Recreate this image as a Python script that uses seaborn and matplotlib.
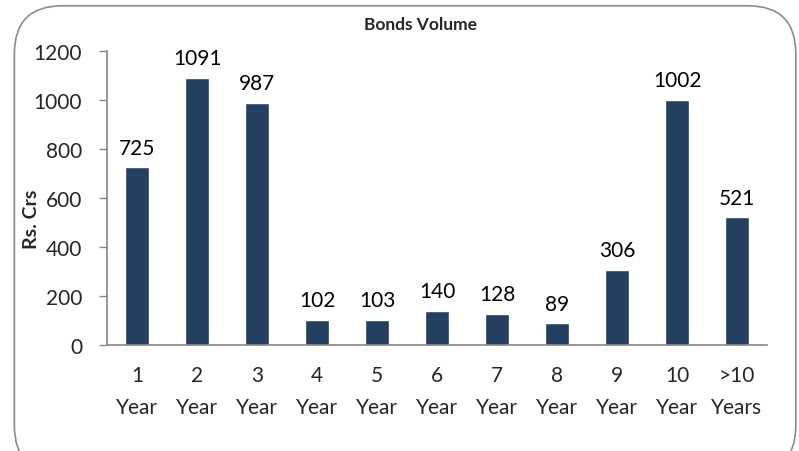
import matplotlib
matplotlib.use("Agg")
import matplotlib.pyplot as plt
from matplotlib.patches import FancyBboxPatch
import pandas as pd
import seaborn as sns
import numpy as np

categories = ["1\nYear", "2\nYear", "3\nYear", "4\nYear", "5\nYear", "6\nYear",
              "7\nYear", "8\nYear", "9\nYear", "10\nYear", ">10\nYears"]
volumes = [725, 1091, 987, 102, 103, 140, 128, 89, 306, 1002, 521]
yticks = [0, 200, 400, 600, 800, 1000, 1200]

sns.set_style("white")
plt.rcParams["font.family"] = ["Lato", "DejaVu Sans"]

df = pd.DataFrame({"Maturity": categories, "Volume": volumes})

fig = plt.figure(figsize=(7.99, 4.52), dpi=100)
ax = fig.add_axes([0.134, 0.234, 0.826, 0.651])

# rounded chart frame
frame = FancyBboxPatch((0.018, -0.05), 0.978, 1.035, boxstyle="round,pad=0,rounding_size=0.06",
                       transform=fig.transFigure, fill=False, edgecolor="#8c8c8c",
                       linewidth=1.2, mutation_aspect=799 / 452)
fig.patches.append(frame)

sns.barplot(data=df, x="Maturity", y="Volume", color="#253f61", width=0.4,
            saturation=1, ax=ax)

for i, v in enumerate(volumes):
    ax.text(i, v + 40, str(v), ha="center", va="bottom", fontsize=15, color="black")

ax.set_ylim(0, 1200)
ax.set_xlim(-0.5, len(categories) - 0.5)
ax.set_yticks(yticks)
ax.set_yticklabels([str(t) for t in yticks], fontsize=15)
ax.set_xticks(range(len(categories)))
ax.set_xticklabels(categories, fontsize=15, linespacing=1.75)
ax.set_xticks(np.arange(-0.5, len(categories), 1), minor=True)
ax.tick_params(axis="x", which="major", length=0, pad=14)
ax.tick_params(axis="x", which="minor", length=6, color="#868686", width=1, direction="out")
ax.tick_params(axis="y", length=6, color="#868686", width=1, direction="out", left=True, pad=12)

for s in ["top", "right"]:
    ax.spines[s].set_visible(False)
for s in ["left", "bottom"]:
    ax.spines[s].set_color("#868686")
    ax.spines[s].set_linewidth(1.2)

ax.set_xlabel("")
ax.set_ylabel("Rs. Crs", fontsize=14, fontweight="bold")
ax.yaxis.set_label_coords(-0.102, 0.43)
fig.text(0.526, 0.944, "Bonds Volume", ha="center", va="center", fontsize=12.5, fontweight="bold")

fig.savefig("out.png", dpi=100)
